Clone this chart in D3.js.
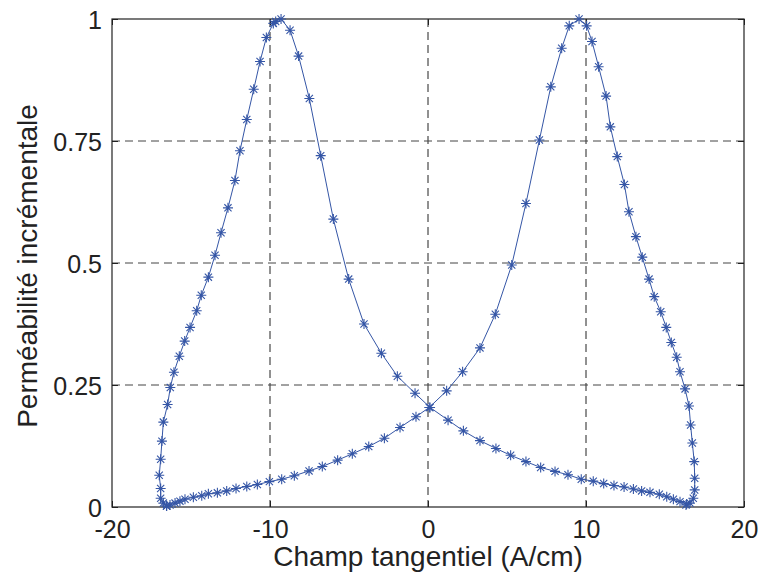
<!DOCTYPE html>
<html>
<head>
<meta charset="utf-8">
<script src="https://cdn.jsdelivr.net/npm/d3@7"></script>
<style>
  html, body { margin: 0; padding: 0; background: #fff; }
  svg { display: block; }
</style>
</head>
<body>
<svg id="chart" width="763" height="579"></svg>
<script>
// Ascending branch (from H = -17 to +17)
const hAsc = [-16.54,-16.33,-16.01,-15.70,-15.38,-14.85,-14.32,-13.90,-13.33,-12.74,
  -12.15,-11.47,-10.80,-10.04,-9.26,-8.46,-7.53,-6.69,-5.72,-4.79,
  -3.75,-2.76,-1.77,-0.76,0.08,1.18,2.19,3.29,4.26,5.30,
  6.20,7.05,7.77,8.46,8.94,9.56,10.04,10.38,10.80,11.27,
  11.54,11.98,12.43,12.72,13.16,13.56,13.99,14.32,14.73,15.08,
  15.40,15.74,15.95,16.27,16.52,16.62,16.73,16.85,16.88,16.88,
  16.79,16.58,16.33];
const muAsc = [0.002,0.004,0.008,0.012,0.016,0.020,0.023,0.027,0.029,0.033,
  0.038,0.042,0.046,0.052,0.057,0.064,0.074,0.083,0.096,0.109,
  0.124,0.141,0.163,0.185,0.204,0.238,0.277,0.326,0.395,0.496,
  0.622,0.752,0.861,0.940,0.986,1.0,0.986,0.954,0.902,0.842,
  0.779,0.718,0.661,0.605,0.554,0.512,0.467,0.431,0.400,0.368,
  0.337,0.307,0.277,0.242,0.207,0.168,0.131,0.093,0.059,0.035,
  0.018,0.008,0.004];
// Descending branch (from H = +17 to -17)
const hDesc = [16.37,15.95,15.53,15.11,14.64,14.05,13.52,13.00,12.41,11.77,
  11.12,10.46,9.70,8.86,8.04,7.13,6.20,5.23,4.30,3.29,
  2.24,1.27,0.13,-0.82,-1.94,-2.95,-4.05,-5.02,-5.99,-6.79,
  -7.51,-8.19,-8.73,-9.30,-9.64,-9.79,-10.23,-10.63,-11.03,-11.47,
  -11.90,-12.22,-12.66,-13.10,-13.48,-13.90,-14.35,-14.64,-15.06,-15.40,
  -15.74,-16.08,-16.31,-16.48,-16.75,-16.84,-16.92,-17.01,-16.92,-16.92,
  -16.75,-16.55];
const muDesc = [0.006,0.011,0.016,0.021,0.026,0.030,0.033,0.037,0.041,0.044,
  0.048,0.053,0.057,0.066,0.073,0.081,0.093,0.106,0.120,0.136,
  0.156,0.178,0.204,0.233,0.268,0.315,0.375,0.467,0.590,0.720,
  0.837,0.924,0.977,1.0,0.995,0.991,0.962,0.913,0.856,0.794,
  0.730,0.669,0.613,0.562,0.516,0.471,0.434,0.402,0.368,0.340,
  0.309,0.276,0.245,0.210,0.174,0.135,0.098,0.065,0.038,0.018,
  0.008,0.002];

const xTicks = [-20, -10, 0, 10, 20];
const xTickLabels = ["-20", "-10", "0", "10", "20"];
const yTicks = [0, 0.25, 0.5, 0.75, 1];
const yTickLabels = ["0", "0.25", "0.5", "0.75", "1"];
const xLabel = "Champ tangentiel (A/cm)";
const yLabel = "Perméabilité incrémentale";

const W = 763, H = 579;
const m = { left: 112, top: 19, right: 19, bottom: 72 };
const pw = W - m.left - m.right, ph = H - m.top - m.bottom;
const color = "#3556a6";
const font = "'Liberation Sans', Arial, Helvetica, sans-serif";

const svg = d3.select("#chart");
const g = svg.append("g").attr("transform", `translate(${m.left},${m.top})`);

const x = d3.scaleLinear().domain([-20, 20]).range([0, pw]);
const y = d3.scaleLinear().domain([0, 1]).range([ph, 0]);

// grid lines
g.append("g").selectAll("line").data(xTicks.slice(1, -1)).join("line")
  .attr("x1", d => x(d)).attr("x2", d => x(d)).attr("y1", 0).attr("y2", ph)
  .attr("stroke", "#222").attr("stroke-width", 1).attr("stroke-dasharray", "8,5");
g.append("g").selectAll("line").data(yTicks.slice(1, -1)).join("line")
  .attr("y1", d => y(d)).attr("y2", d => y(d)).attr("x1", 0).attr("x2", pw)
  .attr("stroke", "#444").attr("stroke-width", 1).attr("stroke-dasharray", "8,5");

// axes (inward ticks, no domain path; box drawn separately)
const xAxis = d3.axisBottom(x).tickValues(xTicks).tickFormat((d, i) => xTickLabels[i]).tickSizeInner(-6).tickSizeOuter(0).tickPadding(13);
const yAxis = d3.axisLeft(y).tickValues(yTicks).tickFormat((d, i) => yTickLabels[i]).tickSizeInner(-6).tickSizeOuter(0).tickPadding(10);
const gx = g.append("g").attr("transform", `translate(0,${ph})`).call(xAxis);
const gy = g.append("g").call(yAxis);
g.append("g").call(d3.axisTop(x).tickValues(xTicks).tickFormat("").tickSizeInner(-6).tickSizeOuter(0));
g.append("g").attr("transform", `translate(${pw},0)`).call(d3.axisRight(y).tickValues(yTicks).tickFormat("").tickSizeInner(-6).tickSizeOuter(0));
g.selectAll(".domain").remove();
g.selectAll(".tick line").attr("stroke", "#222");
[gx, gy].forEach(a => a.selectAll("text").attr("font-family", font).attr("font-size", 25).attr("fill", "#222"));
gy.selectAll("text").attr("dy", "0.36em");

// box
g.append("rect").attr("x", 0).attr("y", 0).attr("width", pw).attr("height", ph)
  .attr("fill", "none").attr("stroke", "#222").attr("stroke-width", 1.2);

// curves
const line = d3.line().x(d => x(d[0])).y(d => y(d[1]));
const branches = [
  d3.zip(hAsc, muAsc),
  d3.zip(hDesc, muDesc)
];
branches.forEach(pts => {
  g.append("path").datum(pts).attr("d", line)
    .attr("fill", "none").attr("stroke", color).attr("stroke-width", 1);
});
const star = "M-5,0H5M0,-5V5M-3.6,-3.6L3.6,3.6M-3.6,3.6L3.6,-3.6";
branches.forEach(pts => {
  g.append("g").selectAll("path").data(pts).join("path")
    .attr("d", star)
    .attr("transform", d => `translate(${x(d[0])},${y(d[1])})`)
    .attr("fill", "none").attr("stroke", color).attr("stroke-width", 1.1);
});

// axis labels
svg.append("text").attr("x", m.left + x(0)).attr("y", 566)
  .attr("text-anchor", "middle").attr("font-family", font).attr("font-size", 28).attr("fill", "#222")
  .text(xLabel);
svg.append("text").attr("transform", `translate(37,${m.top + ph / 2 + 3}) rotate(-90)`)
  .attr("text-anchor", "middle").attr("font-family", font).attr("font-size", 28).attr("fill", "#222")
  .text(yLabel);
</script>
</body>
</html>
